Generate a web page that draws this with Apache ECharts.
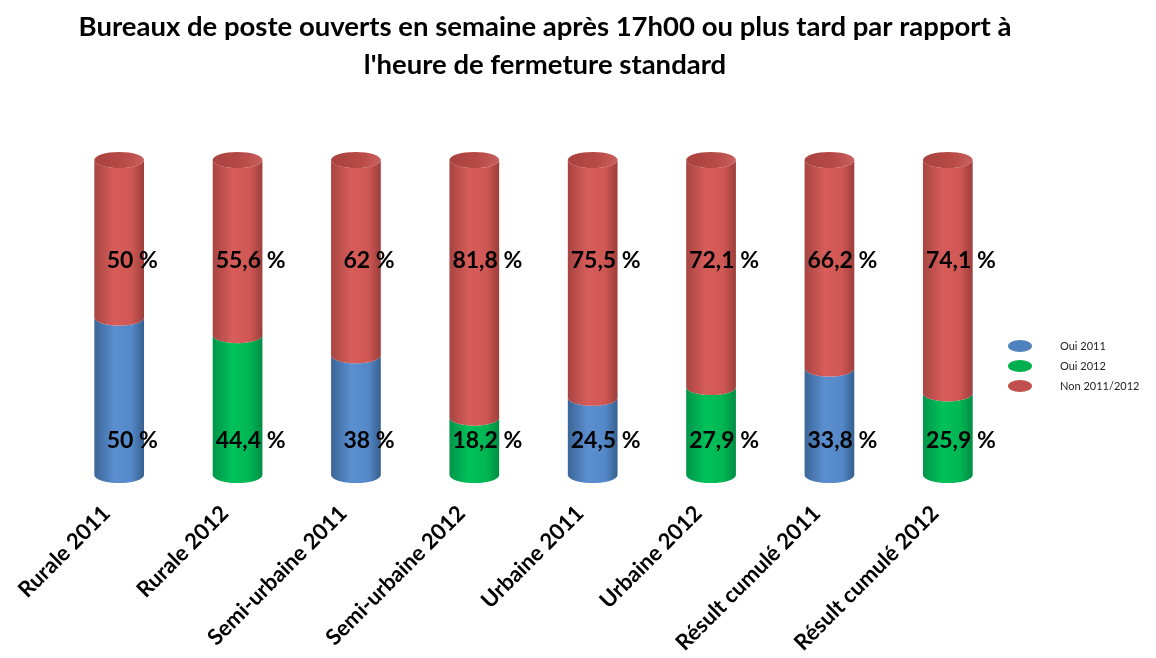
<!DOCTYPE html>
<html>
<head>
<meta charset="utf-8">
<script src="https://cdn.jsdelivr.net/npm/echarts@6/dist/echarts.min.js"></script>
<style>
  html, body { margin: 0; padding: 0; background: #fff; }
  #chart { width: 1156px; height: 658px; }
</style>
</head>
<body>
<div id="chart"></div>
<script>
const categories = ['Rurale 2011', 'Rurale 2012', 'Semi-urbaine 2011', 'Semi-urbaine 2012',
    'Urbaine 2011', 'Urbaine 2012', 'Résult cumulé 2011', 'Résult cumulé 2012']
const oui2011 = [50, null, 38, null, 24.5, null, 33.8, null]
const oui2012 = [null, 44.4, null, 18.2, null, 27.9, null, 25.9]
const non = [50, 55.6, 62, 81.8, 75.5, 72.1, 66.2, 74.1]
const labelsOui = ['50 %', '44,4 %', '38 %', '18,2 %', '24,5 %', '27,9 %', '33,8 %', '25,9 %']
const labelsNon = ['50 %', '55,6 %', '62 %', '81,8 %', '75,5 %', '72,1 %', '66,2 %', '74,1 %']

const palette = {
    blue: ['#3b6597', '#5b8fd0', '#5488c8', '#35608f'],
    green: ['#00954a', '#00c25a', '#00b552', '#008c44'],
    red: ['#a74441', '#d75d5a', '#cf5754', '#9c3e3b']
}

const chartDom = document.getElementById('chart')
const myChart = echarts.init(chartDom)

const bodyFill = (c) => new echarts.graphic.LinearGradient(0, 0, 1, 0, [
    { offset: 0, color: c[0] },
    { offset: 0.4, color: c[1] },
    { offset: 0.75, color: c[2] },
    { offset: 1, color: c[3] }
])

// a cylinder slice between two values, optional top cap and label
const makeRender = (c, labels, labelValue, withCap) => (params, api) => {
    const i = api.value(0)
    const from = api.value(1)
    const to = api.value(2)
    const pBottom = api.coord([i, from])
    const pTop = api.coord([i, to])
    const w = api.size([1, 0])[0] * 0.42
    const rx = w / 2
    const ry = 8
    const x0 = pBottom[0] - rx
    const x1 = pBottom[0] + rx
    const yt = pTop[1]
    const yb = pBottom[1]
    const children = [{
        type: 'path',
        shape: {
            pathData: `M${x0},${yt} A${rx},${ry} 0 0 0 ${x1},${yt} L${x1},${yb} A${rx},${ry} 0 0 1 ${x0},${yb} Z`
        },
        style: { fill: bodyFill(c) }
    }]
    if (withCap) {
        children.push({
            type: 'path',
            shape: {
                pathData: `M${x0},${yt} A${rx},${ry} 0 0 0 ${x1},${yt} A${rx},${ry} 0 0 0 ${x0},${yt} Z`
            },
            style: {
                fill: new echarts.graphic.LinearGradient(0, 0, 1, 0, [
                    { offset: 0, color: '#a9423f' },
                    { offset: 0.6, color: '#b84a47' },
                    { offset: 1, color: '#c9605d' }
                ])
            }
        })
    }
    const lp = api.coord([i, labelValue])
    children.push({
        type: 'text',
        style: {
            text: labels[i],
            x: lp[0] + 13,
            y: lp[1],
            align: 'center',
            verticalAlign: 'middle',
            font: 'bold 23px Lato',
            fill: '#000'
        }
    })
    return { type: 'group', children }
}

const ouiData = (arr) => arr.map((v, i) => v == null ? null : [i, 0, v]).filter(d => d)
const nonData = non.map((v, i) => [i, 100 - v, 100])

const option = {
    animation: false,
    title: {
        text: "Bureaux de poste ouverts en semaine après 17h00 ou plus tard par rapport à\nl'heure de fermeture standard",
        left: 540,
        textAlign: 'center',
        top: 3,
        textStyle: {
            fontFamily: 'Lato',
            fontWeight: 'bold',
            fontSize: 27.5,
            lineHeight: 38,
            color: '#000'
        }
    },
    legend: {
        orient: 'vertical',
        left: 1003,
        top: 335,
        itemWidth: 26,
        itemHeight: 12,
        itemGap: 8,
        icon: 'path://M0,5 A10,5 0 1,1 20,5 A10,5 0 1,1 0,5 Z',
        textStyle: { fontFamily: 'Lato', fontSize: 11, color: '#222', padding: [0, 0, 0, 22] },
        data: [
            { name: 'Oui 2011', itemStyle: { color: '#4f81bd' } },
            { name: 'Oui 2012', itemStyle: { color: '#00b050' } },
            { name: 'Non 2011/2012', itemStyle: { color: '#c0504d' } }
        ]
    },
    grid: { left: 60, right: 149, top: 160, bottom: 183 },
    xAxis: {
        type: 'category',
        data: categories,
        axisLine: { show: false },
        axisTick: { show: false },
        axisLabel: {
            rotate: 45,
            interval: 0,
            margin: 22,
            padding: [0, 18, 0, 0],
            fontFamily: 'Lato',
            fontWeight: 'bold',
            fontSize: 22,
            color: '#000'
        }
    },
    yAxis: { type: 'value', min: 0, max: 100, show: false },
    series: [
        {
            name: 'Oui 2011', type: 'custom', color: '#4f81bd',
            encode: { x: 0, y: [1, 2] },
            renderItem: makeRender(palette.blue, labelsOui, 11, false),
            data: ouiData(oui2011)
        },
        {
            name: 'Oui 2012', type: 'custom', color: '#00b050',
            encode: { x: 0, y: [1, 2] },
            renderItem: makeRender(palette.green, labelsOui, 11, false),
            data: ouiData(oui2012)
        },
        {
            name: 'Non 2011/2012', type: 'custom', color: '#c0504d',
            encode: { x: 0, y: [1, 2] },
            renderItem: makeRender(palette.red, labelsNon, 68, true),
            data: nonData
        }
    ]
}
myChart.setOption(option)
</script>
</body>
</html>
